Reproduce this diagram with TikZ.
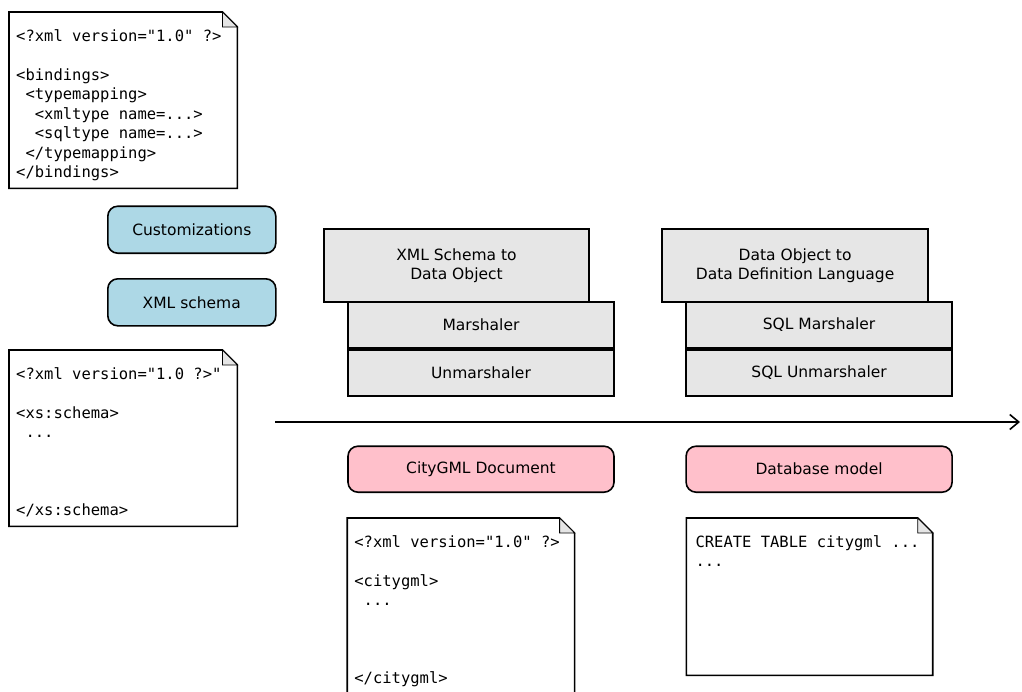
\documentclass[tikz,border=0pt]{standalone}
\usepackage{fontspec}
\setmainfont{DejaVu Sans}
\setmonofont{DejaVu Sans Mono}
\usetikzlibrary{positioning,arrows.meta}

\definecolor{inblue}{HTML}{ADD8E6}
\definecolor{outpink}{HTML}{FFC0CB}
\definecolor{stepgray}{HTML}{E6E6E6}

% outline of a sheet with a folded corner, drawn round an empty node
\newcommand{\foldedpage}[1]{%
  \draw[pageline] (#1.north west) -- ([xshift=-15pt]#1.north east)
    -- ([yshift=-15pt]#1.north east) -- (#1.south east) -- (#1.south west) -- cycle;
  \filldraw[foldline] ([xshift=-15pt]#1.north east) -- ([xshift=-15pt,yshift=-15pt]#1.north east)
    -- ([yshift=-15pt]#1.north east) -- cycle;}

\begin{document}
\begin{tikzpicture}[x=1pt, y=-1pt,
labelfont/.style={font=\fontsize{15.5}{19.5}\selectfont},
inputnode/.style={rectangle, rounded corners=10pt, draw=black, fill=inblue, line width=1.6pt, minimum width=168pt, minimum height=47pt, labelfont},
outputnode/.style={rectangle, rounded corners=10pt, draw=black, fill=outpink, line width=1.6pt, minimum width=266pt, minimum height=46pt, labelfont},
stepnode/.style={rectangle, draw=black, fill=stepgray, line width=1.6pt, minimum width=266pt, minimum height=46pt, align=center, labelfont},
pagenode/.style={rectangle, anchor=north west, inner sep=0pt, minimum width=228pt, minimum height=176pt},
codetext/.style={anchor=north west, inner sep=0pt, align=left, font=\fontsize{15.5}{19.5}\selectfont\ttfamily},
pageline/.style={line width=1.6pt, line join=miter},
foldline/.style={line width=0.8pt, fill=black!10},
flowline/.style={line width=1.6pt, -{Straight Barb[length=9pt, width=15pt, line width=1.6pt]}},
]
\useasboundingbox (0,0) rectangle (1022,691);
\clip (0,0) rectangle (1022,691);

%Nodes
\node[pagenode]      (bindings)                    at (9,12)        {};
\node[inputnode]     (custom)      [below right=17pt and 98pt of bindings.south west, anchor=north west] {Customizations};
\node[inputnode]     (xsd)         [below=24pt of custom]          {XML schema};
\node[pagenode]      (schema)                      at (9,350)       {};

\node[stepnode, minimum width=265pt, minimum height=73pt] (xjc) at (456.5,265.5) {XML Schema to\\Data Object};
\node[stepnode]      (marshal)     [below right=-1.5pt and 24pt of xjc.south west, anchor=north west] {Marshaler};
\node[stepnode]      (unmarshal)   [below=0.4pt of marshal]        {Unmarshaler};
\node[outputnode]    (citydoc)     [below=48.5pt of unmarshal]     {CityGML Document};
\node[pagenode, minimum width=227pt, minimum height=200pt] (citypage) [below right=25pt and 0pt of citydoc.south west, anchor=north west] {};

\node[stepnode, minimum width=266pt, minimum height=73pt] (ddl) [right=71.5pt of xjc] {Data Object to\\Data Definition Language};
\node[stepnode]      (sqlmarshal)  [below right=-1.5pt and 24pt of ddl.south west, anchor=north west] {SQL Marshaler};
\node[stepnode]      (sqlunmarshal) [below=0.4pt of sqlmarshal]   {SQL Unmarshaler};
\node[outputnode]    (dbmodel)     [below=48.5pt of sqlunmarshal]  {Database model};
\node[pagenode, minimum width=246pt, minimum height=157pt] (dbpage) [below right=25pt and 1pt of dbmodel.south west, anchor=north west] {};

%Pages
\foldedpage{bindings}
\foldedpage{schema}
\foldedpage{citypage}
\foldedpage{dbpage}

\node[codetext] (bindingstext) [below right=17pt and 7pt of bindings.north west] {<?xml version="1.0" ?>\\~\\<bindings>\\~<typemapping>\\~~<xmltype name=...>\\~~<sqltype name=...>\\~</typemapping>\\</bindings>};
\node[codetext] (schematext) [below right=17pt and 7pt of schema.north west] {<?xml version="1.0 ?>"\\~\\<xs:schema>\\~...\\~\\~\\~\\</xs:schema>};
\node[codetext] (citytext) [below right=17pt and 7pt of citypage.north west] {<?xml version="1.0" ?>\\~\\<citygml>\\~...\\~\\~\\~\\</citygml>};
\node[codetext] (dbtext) [below right=17pt and 9pt of dbpage.north west] {CREATE TABLE citygml ...\\...};

%Lines
\coordinate (flowstart) at (275,422);
\coordinate (flowend)   at (1020,422);
\draw[flowline] (flowstart) -- (flowend);
\end{tikzpicture}
\end{document}
